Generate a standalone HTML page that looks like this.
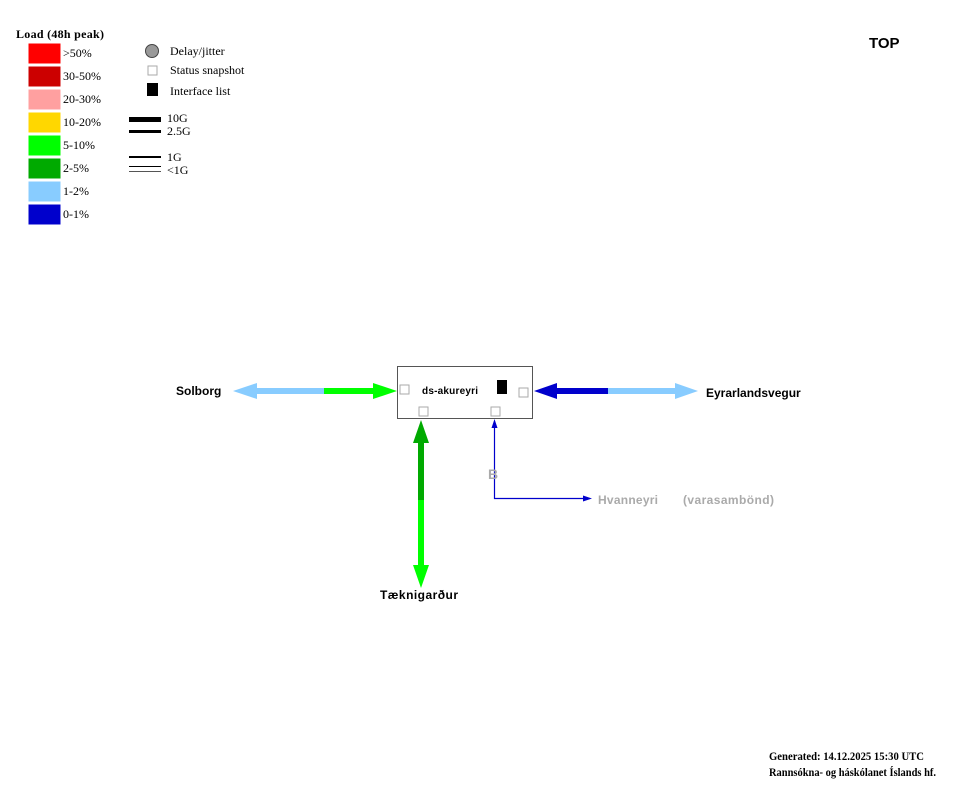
<!DOCTYPE html>
<html><head><meta charset="utf-8"><style>
html,body{margin:0;padding:0;background:#fff;width:967px;height:785px;overflow:hidden}
svg{display:block}
.s{font-family:"Liberation Serif",serif;font-size:12px;fill:#000}
.b{font-family:"Liberation Sans",sans-serif;font-weight:bold}
</style></head><body>
<svg width="967" height="785" viewBox="0 0 967 785" xmlns="http://www.w3.org/2000/svg">
<text x="16" y="38" class="s" font-weight="bold" textLength="88">Load (48h peak)</text>
<g stroke="#fff" stroke-width="1">
<rect x="28" y="43" width="33" height="21" fill="#ff0000"/>
<rect x="28" y="66" width="33" height="21" fill="#cc0000"/>
<rect x="28" y="89" width="33" height="21" fill="#ffa0a0"/>
<rect x="28" y="112" width="33" height="21" fill="#ffd700"/>
<rect x="28" y="135" width="33" height="21" fill="#00ff00"/>
<rect x="28" y="158" width="33" height="21" fill="#00aa00"/>
<rect x="28" y="181" width="33" height="21" fill="#88ccff"/>
<rect x="28" y="204" width="33" height="21" fill="#0000cc"/>
</g>
<text x="63" y="57" class="s">&gt;50%</text>
<text x="63" y="80" class="s">30-50%</text>
<text x="63" y="103" class="s">20-30%</text>
<text x="63" y="126" class="s">10-20%</text>
<text x="63" y="149" class="s">5-10%</text>
<text x="63" y="172" class="s">2-5%</text>
<text x="63" y="195" class="s">1-2%</text>
<text x="63" y="218" class="s">0-1%</text>

<circle cx="152" cy="51" r="6.5" fill="#999" stroke="#444" stroke-width="1"/>
<rect x="148" y="66" width="9" height="9" fill="#fff" stroke="#aaa" stroke-width="1"/>
<rect x="147" y="83" width="11" height="13" fill="#000"/>
<text x="170" y="55" class="s">Delay/jitter</text>
<text x="170" y="74" class="s">Status snapshot</text>
<text x="170" y="95" class="s">Interface list</text>

<rect x="129" y="117" width="32" height="5" fill="#000"/>
<rect x="129" y="130" width="32" height="3" fill="#000"/>
<rect x="129" y="156" width="32" height="2" fill="#000"/>
<rect x="129" y="166" width="32" height="1" fill="#000"/>
<rect x="129" y="171" width="32" height="1" fill="#555"/>
<text x="167" y="122" class="s" font-size="9">10G</text>
<text x="167" y="135" class="s" font-size="9">2.5G</text>
<text x="167" y="161" class="s" font-size="9">1G</text>
<text x="167" y="174" class="s" font-size="9">&lt;1G</text>

<text x="869" y="48" class="b" font-size="15">TOP</text>

<polygon points="233,391 257,383 257,388 325,388 325,394 257,394 257,399" fill="#88ccff"/>
<polygon points="397,391 373,383 373,388 324,388 324,394 373,394 373,399" fill="#00ff00"/>
<text x="176" y="395" class="b" font-size="12">Solborg</text>

<polygon points="534,391 557,383 557,388 609,388 609,394 557,394 557,399" fill="#0000cc"/>
<polygon points="698,391 675,383 675,388 608,388 608,394 675,394 675,399" fill="#88ccff"/>
<text x="706" y="397" class="b" font-size="12">Eyrarlandsvegur</text>

<polygon points="421,420 413,443 418,443 418,501 424,501 424,443 429,443" fill="#00aa00"/>
<polygon points="421,588 413,565 418,565 418,500 424,500 424,565 429,565" fill="#00ff00"/>
<text x="380" y="599" class="b" font-size="12" textLength="78">Tæknigarður</text>

<polyline points="494.5,424 494.5,498.5 586,498.5" fill="none" stroke="#0000cc" stroke-width="1.2"/>
<polygon points="494.5,419 491.5,428 497.5,428" fill="#0000cc"/>
<polygon points="592,498.5 583,495.5 583,501.5" fill="#0000cc"/>
<text x="488" y="479" class="b" font-size="14" fill="#aaa">B</text>
<text x="598" y="504" class="b" font-size="12" fill="#aaa" textLength="60">Hvanneyri</text>
<text x="683" y="504" class="b" font-size="12" fill="#aaa" textLength="91">(varasambönd)</text>

<rect x="397.5" y="366.5" width="135" height="52" fill="#fff" stroke="#555" stroke-width="1"/>
<text x="422" y="394" class="b" font-size="10" textLength="56">ds-akureyri</text>
<rect x="497" y="380" width="10" height="14" fill="#000"/>
<rect x="400" y="385" width="9" height="9" fill="#fff" stroke="#aaa" stroke-width="1"/>
<rect x="519" y="388" width="9" height="9" fill="#fff" stroke="#aaa" stroke-width="1"/>
<rect x="419" y="407" width="9" height="9" fill="#fff" stroke="#aaa" stroke-width="1"/>
<rect x="491" y="407" width="9" height="9" fill="#fff" stroke="#aaa" stroke-width="1"/>

<text x="769" y="760" class="s" font-size="10" font-weight="bold" textLength="155" lengthAdjust="spacingAndGlyphs">Generated:  14.12.2025 15:30 UTC</text>
<text x="769" y="776" class="s" font-size="10" font-weight="bold" textLength="167" lengthAdjust="spacingAndGlyphs">Rannsókna- og háskólanet Íslands hf.</text>
</svg>
</body></html>
